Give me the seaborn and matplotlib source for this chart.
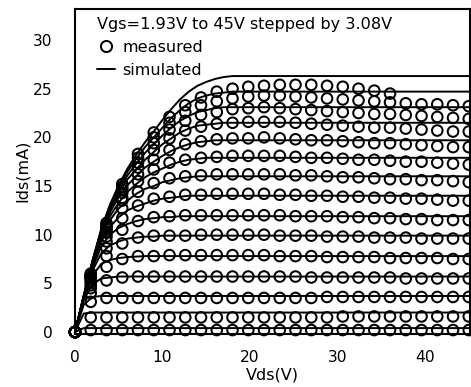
import numpy as np
import pandas as pd
import matplotlib
matplotlib.use("Agg")
import matplotlib.pyplot as plt
from matplotlib.lines import Line2D
import seaborn as sns

# ---------------- data ----------------
vds_meas = [0, 1.8, 3.6, 5.4, 7.2, 9.0, 10.8, 12.6, 14.4, 16.2, 18.0, 19.8, 21.6,
            23.4, 25.2, 27.0, 28.8, 30.6, 32.4, 34.2, 36.0, 37.8, 39.6, 41.4, 43.2, 45.0]

meas_0 = [0, 0.2, 0.2, 0.2, 0.2, 0.2, 0.2, 0.2, 0.2, 0.2, 0.2, 0.2, 0.2,
          0.2, 0.2, 0.2, 0.2, 0.2, 0.2, 0.2, 0.2, 0.2, 0.2, 0.2, 0.2, 0.2]
meas_1 = [0, 1.5, 1.5, 1.5, 1.5, 1.5, 1.5, 1.5, 1.5, 1.5, 1.5, 1.5, 1.5,
          1.5, 1.5, 1.5, 1.5, 1.6, 1.6, 1.6, 1.6, 1.6, 1.6, 1.6, 1.6, 1.6]
meas_2 = [0, 3.1, 3.5, 3.5, 3.5, 3.5, 3.5, 3.5, 3.5, 3.5, 3.5, 3.5, 3.5,
          3.5, 3.5, 3.5, 3.6, 3.6, 3.6, 3.6, 3.6, 3.6, 3.6, 3.6, 3.6, 3.6]
meas_3 = [0, 4.0, 5.3, 5.6, 5.7, 5.7, 5.7, 5.7, 5.7, 5.7, 5.7, 5.7, 5.7,
          5.7, 5.7, 5.6, 5.6, 5.6, 5.6, 5.6, 5.6, 5.5, 5.5, 5.5, 5.5, 5.5]
meas_4 = [0, 4.5, 6.7, 7.5, 7.8, 7.8, 7.9, 7.9, 7.9, 7.9, 7.9, 7.9, 7.9,
          7.8, 7.8, 7.8, 7.7, 7.7, 7.7, 7.7, 7.6, 7.6, 7.6, 7.6, 7.5, 7.5]
meas_5 = [0, 4.8, 7.8, 9.1, 9.7, 9.9, 9.9, 9.9, 10.0, 10.0, 10.0, 10.0, 10.0,
          9.9, 9.9, 9.9, 9.8, 9.8, 9.8, 9.7, 9.7, 9.7, 9.6, 9.6, 9.6, 9.6]
meas_6 = [0, 5.1, 8.6, 10.5, 11.4, 11.8, 11.9, 12.0, 12.0, 12.0, 12.0, 12.0, 12.0,
          12.0, 11.9, 11.9, 11.9, 11.8, 11.8, 11.7, 11.7, 11.6, 11.6, 11.5, 11.5, 11.5]
meas_7 = [0, 5.3, 9.3, 11.7, 13.0, 13.7, 13.9, 14.1, 14.1, 14.2, 14.2, 14.2, 14.2,
          14.1, 14.1, 14.0, 14.0, 13.9, 13.9, 13.8, 13.8, 13.7, 13.7, 13.6, 13.5, 13.5]
meas_8 = [0, 5.5, 9.8, 12.7, 14.4, 15.3, 15.8, 16.0, 16.1, 16.2, 16.2, 16.2, 16.2,
          16.2, 16.1, 16.1, 16.0, 15.9, 15.9, 15.8, 15.7, 15.7, 15.6, 15.6, 15.5, 15.4]
meas_9 = [0, 5.6, 10.2, 13.5, 15.5, 16.7, 17.4, 17.7, 17.9, 18.0, 18.1, 18.1, 18.1,
          18.1, 18.0, 17.9, 17.9, 17.8, 17.7, 17.7, 17.6, 17.5, 17.5, 17.4, 17.3, 17.2]
meas_10 = [0, 5.6, 10.3, 13.8, 16.2, 17.7, 18.7, 19.3, 19.6, 19.8, 19.9, 19.9, 20.0,
           19.9, 19.8, 19.7, 19.7, 19.6, 19.5, 19.4, 19.4, 19.3, 19.2, 19.1, 19.0, 19.0]
meas_11 = [0, 5.7, 10.6, 14.3, 16.9, 18.7, 19.9, 20.7, 21.1, 21.4, 21.5, 21.6, 21.6,
           21.6, 21.5, 21.4, 21.3, 21.2, 21.1, 21.0, 21.0, 20.9, 20.8, 20.7, 20.6, 20.6]
meas_12 = [0, 5.8, 10.8, 14.6, 17.4, 19.4, 20.8, 21.7, 22.3, 22.6, 22.9, 23.0, 23.1,
           23.0, 22.9, 22.8, 22.7, 22.6, 22.5, 22.4, 22.4, 22.3, 22.2, 22.1, 22.0, 21.9]
meas_13 = [0, 5.9, 11.0, 14.9, 17.9, 20.0, 21.5, 22.6, 23.3, 23.7, 24.0, 24.2, 24.3,
           24.3, 24.2, 24.1, 24.0, 23.9, 23.8, 23.7, 23.6, 23.5, 23.4, 23.4, 23.3, 23.2]
meas_14 = [0, 6.0, 11.2, 15.2, 18.3, 20.5, 22.1, 23.3, 24.1, 24.7, 25.0, 25.2, 25.3,
           25.4, 25.4, 25.4, 25.3, 25.2, 25.0, 24.8, 24.5, None, None, None, None, None]

vds_sim = [0, 1, 2, 3, 4, 5, 6, 7, 8, 9, 10, 11, 12, 13, 14, 15, 16, 17, 18, 20, 45]

sim_0 = [0, 0.4, 0.4, 0.4, 0.4, 0.4, 0.4, 0.4, 0.4, 0.4, 0.4, 0.4, 0.4, 0.4, 0.4, 0.4, 0.4, 0.4, 0.4, 0.4, 0.4]
sim_1 = [0, 1.9, 2.0, 2.0, 2.0, 2.0, 2.0, 2.0, 2.0, 2.0, 2.0, 2.0, 2.0, 2.0, 2.0, 2.0, 2.0, 2.0, 2.0, 2.0, 2.0]
sim_2 = [0, 2.8, 3.6, 3.7, 3.7, 3.7, 3.7, 3.7, 3.7, 3.7, 3.7, 3.7, 3.7, 3.7, 3.7, 3.7, 3.7, 3.7, 3.7, 3.7, 3.7]
sim_3 = [0, 3.3, 4.9, 5.5, 5.6, 5.7, 5.7, 5.7, 5.7, 5.7, 5.7, 5.7, 5.7, 5.7, 5.7, 5.7, 5.7, 5.7, 5.7, 5.7, 5.7]
sim_4 = [0, 3.5, 5.8, 7.0, 7.4, 7.6, 7.7, 7.75, 7.8, 7.8, 7.8, 7.8, 7.8, 7.8, 7.8, 7.8, 7.8, 7.8, 7.8, 7.8, 7.8]
sim_5 = [0, 3.6, 6.3, 8.1, 8.9, 9.3, 9.6, 9.7, 9.8, 9.8, 9.9, 9.9, 9.9, 9.9, 9.9, 9.9, 9.9, 9.9, 9.9, 9.9, 9.9]
sim_6 = [0, 3.6, 6.6, 8.8, 10.0, 10.7, 11.1, 11.4, 11.6, 11.7, 11.8, 11.8, 11.9, 11.9, 11.9, 11.9, 11.9, 11.9, 11.9, 11.9, 11.9]
sim_7 = [0, 3.6, 6.9, 9.3, 10.8, 11.8, 12.5, 12.9, 13.2, 13.5, 13.7, 13.8, 13.9, 14.0, 14.0, 14.0, 14.0, 14.0, 14.0, 14.0, 14.0]
sim_8 = [0, 3.7, 7.0, 9.7, 11.5, 12.7, 13.5, 14.2, 14.7, 15.0, 15.4, 15.6, 15.8, 15.9, 16.0, 16.0, 16.0, 16.0, 16.0, 16.0, 16.0]
sim_9 = [0, 3.7, 7.1, 10.0, 11.9, 13.3, 14.4, 15.2, 15.9, 16.4, 16.8, 17.2, 17.5, 17.7, 17.8, 17.9, 17.9, 17.9, 17.9, 17.9, 17.9]
sim_10 = [0, 3.7, 7.2, 10.2, 12.3, 13.9, 15.1, 16.0, 16.9, 17.5, 18.1, 18.6, 19.0, 19.3, 19.5, 19.6, 19.7, 19.7, 19.7, 19.7, 19.7]
sim_11 = [0, 3.7, 7.2, 10.3, 12.6, 14.3, 15.7, 16.7, 17.7, 18.5, 19.3, 19.9, 20.5, 20.9, 21.2, 21.3, 21.4, 21.5, 21.5, 21.5, 21.5]
sim_12 = [0, 3.7, 7.3, 10.4, 12.8, 14.6, 16.1, 17.3, 18.4, 19.3, 20.2, 21.0, 21.7, 22.2, 22.6, 22.8, 23.0, 23.1, 23.1, 23.1, 23.1]
sim_13 = [0, 3.7, 7.3, 10.5, 13.0, 14.9, 16.5, 17.8, 19.0, 20.0, 21.0, 22.0, 22.8, 23.5, 24.0, 24.3, 24.5, 24.6, 24.7, 24.7, 24.7]
sim_14 = [0, 3.7, 7.3, 10.6, 13.1, 15.1, 16.8, 18.2, 19.5, 20.6, 21.8, 22.9, 23.9, 24.7, 25.3, 25.7, 26.0, 26.2, 26.3, 26.3, 26.3]

meas_curves = [meas_0, meas_1, meas_2, meas_3, meas_4, meas_5, meas_6, meas_7,
               meas_8, meas_9, meas_10, meas_11, meas_12, meas_13, meas_14]
sim_curves = [sim_0, sim_1, sim_2, sim_3, sim_4, sim_5, sim_6, sim_7,
              sim_8, sim_9, sim_10, sim_11, sim_12, sim_13, sim_14]

x_ticks = [0, 10, 20, 30, 40]
y_ticks = [0, 5, 10, 15, 20, 25, 30]
legend_title = "Vgs=1.93V to 45V stepped by 3.08V"
legend_labels = ["measured", "simulated"]

# ---------------- long-form tables ----------------
meas_df = pd.concat(
    [pd.DataFrame({"Vds": vds_meas, "Ids": c, "curve": i}) for i, c in enumerate(meas_curves)],
    ignore_index=True).dropna()
meas_df["Ids"] = meas_df["Ids"].astype(float)
sim_df = pd.concat(
    [pd.DataFrame({"Vds": vds_sim, "Ids": c, "curve": i}) for i, c in enumerate(sim_curves)],
    ignore_index=True)

# ---------------- style ----------------
sns.set_style("white", {"axes.edgecolor": "black", "text.color": "black",
                        "axes.labelcolor": "black", "xtick.color": "black",
                        "ytick.color": "black"})
plt.rcParams["font.family"] = ["DejaVu Sans"]

fig = plt.figure(figsize=(4.71, 3.87), dpi=100)
ax = fig.add_axes([75 / 471, 1 - 333.5 / 387, 395 / 471, 324.5 / 387])

sns.lineplot(data=sim_df, x="Vds", y="Ids", units="curve", estimator=None,
             color="black", linewidth=1.4, sort=False, legend=False, ax=ax)
sns.scatterplot(data=meas_df, x="Vds", y="Ids", facecolors="none", edgecolor="black",
                s=58, linewidth=1.45, legend=False, ax=ax, clip_on=False, zorder=3)

ax.set_xlim(0, 45.14)
ax.set_ylim(-0.154, 33.19)
ax.set_xticks(x_ticks)
ax.set_yticks(y_ticks)
ax.tick_params(axis="both", direction="in", length=3, width=0.8, labelsize=11.2)
ax.tick_params(axis="y", pad=16)
ax.tick_params(axis="x", pad=12)
for s in ax.spines.values():
    s.set_linewidth(1.5)
    s.set_color("black")

ax.set_xlabel("Vds(V)", fontsize=11.6)
ax.set_ylabel("Ids(mA)", fontsize=11.6)
ax.xaxis.set_label_coords(0.5, -0.106)
ax.yaxis.set_label_coords(-0.113, 0.5)

handles = [Line2D([], [], marker="o", linestyle="", markerfacecolor="none",
                  markeredgecolor="black", markersize=8, markeredgewidth=1.45),
           Line2D([], [], color="black", linewidth=1.4)]
leg = ax.legend(handles=handles, labels=legend_labels, title=legend_title,
                loc="upper left", bbox_to_anchor=(0.0557, 0.976), frameon=False,
                fontsize=11.6, title_fontsize=11.6, alignment="left",
                borderpad=0, borderaxespad=0, labelspacing=0.5,
                handlelength=1.12, handletextpad=0.45)

fig.savefig("out.png", dpi=100)
